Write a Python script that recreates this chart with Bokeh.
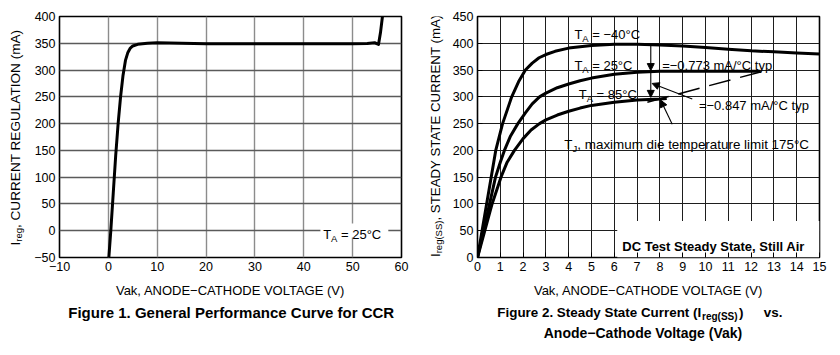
import math
from bokeh.plotting import figure
from bokeh.layouts import row, column
from bokeh.models import Label, Arrow, NormalHead, BoxAnnotation, Range1d, FixedTicker
from bokeh.embed import file_html
from bokeh.resources import INLINE

FONT = "Liberation Sans"

# ---------------- Figure 1 data ----------------
f1_v = [0.1, 0.5, 1.0, 1.5, 2.0, 2.5, 3.0, 3.5, 4.0, 4.5, 5.0, 6.0, 8.0, 10, 15, 20, 30, 40, 50, 53, 54.5, 55.3, 55.7, 56.1]
f1_i = [-50, 0, 70, 140, 200, 250, 290, 318, 333, 341, 345, 348, 350, 351, 350, 349, 349, 349, 349, 349.5, 351, 348, 370, 400]
f1_xticks = [-10, 0, 10, 20, 30, 40, 50, 60]
f1_yticks = [-50, 0, 50, 100, 150, 200, 250, 300, 350, 400]

# ---------------- Figure 2 data ----------------
f2_v_m40 = [0, 0.4, 0.6, 0.8, 1.1, 1.5, 1.8, 2.1, 2.4, 2.7, 3.0, 3.4, 4.0, 5.0, 6.0, 7.0, 8.0, 9.0, 10.0, 11.0, 12.0, 13.0, 14.0, 15.0]
f2_i_m40 = [0, 100, 150, 200, 250, 300, 328, 350, 363, 373, 379, 385, 391, 396, 398, 398, 397, 395, 392, 389, 386, 384, 382, 380]
f2_v_25 = [0, 0.53, 0.79, 1.0, 1.18, 1.45, 1.77, 2.1, 2.4, 2.72, 3.0, 3.5, 4.0, 4.5, 5.0, 6.0, 7.0, 8.0, 9.0, 10.0, 11.0, 12.0, 12.4]
f2_i_25 = [0, 100, 150, 178, 200, 227, 250, 270, 287, 300, 307, 317, 324, 330, 335, 342, 346, 348, 348, 348, 348, 348, 348]
f2_v_85 = [0, 0.64, 1.03, 1.3, 1.62, 2.0, 2.35, 2.72, 3.0, 3.5, 4.0, 4.5, 5.0, 6.0, 7.0, 8.0, 8.3]
f2_i_85 = [0, 100, 150, 178, 200, 222, 238, 250, 257, 266, 273, 279, 284, 290, 294, 296, 297]
f2_tj_v = [7.45, 12.63]          # die-temperature limit (dashed)
f2_tj_i = [290, 349]
f2_xticks = list(range(0, 16))
f2_yticks = list(range(0, 451, 50))

# annotation anchors (data units)
arrow_m40_25 = (7.6, 398, 7.6, 349)
arrow_25_85 = (7.6, 349, 7.6, 299)
ptr_0847 = (9.42, 296, 7.66, 325)
ptr_tj = (8.54, 249, 8.03, 294)


def lab(p, text, x, y, size=13, units="data", bold=False, align="left",
        baseline="alphabetic", angle=0, xo=0, yo=0):
    p.add_layout(Label(x=x, y=y, x_units=units, y_units=units, text=text,
                       text_font=FONT, text_font_size=f"{size}px",
                       text_font_style="bold" if bold else "normal",
                       text_align=align, text_baseline=baseline, angle=angle,
                       x_offset=xo, y_offset=yo, text_color="black"))


def blank(w, h):
    f = figure(width=w, height=h, x_range=Range1d(0, 1), y_range=Range1d(0, 1),
               output_backend="svg", toolbar_location=None,
               x_axis_location=None, y_axis_location=None, min_border=0)
    f.grid.visible = False
    f.outline_line_color = None
    f.background_fill_color = "white"
    f.border_fill_color = "white"
    return f


def style(p, xticks, yticks, xgrid_color, ygrid_color, gw, tick_in):
    p.xaxis.ticker = FixedTicker(ticks=xticks)
    p.yaxis.ticker = FixedTicker(ticks=yticks)
    for ax in (p.xaxis[0], p.yaxis[0]):
        ax.axis_line_color = None
        ax.major_tick_in = tick_in
        ax.major_tick_out = 0
        ax.major_tick_line_color = "black"
        ax.minor_tick_line_color = None
        ax.major_label_text_font = FONT
        ax.major_label_text_font_size = "12.5px"
        ax.major_label_text_color = "black"
        ax.axis_label_text_font = FONT
        ax.axis_label_text_font_size = "13px"
        ax.axis_label_text_font_style = "normal"
        ax.axis_label_text_color = "black"
    p.xaxis.major_label_standoff = 4
    p.yaxis.major_label_standoff = 4
    p.xaxis.axis_label = "Vak, ANODE\u2212CATHODE VOLTAGE (V)"
    p.xaxis.axis_label_standoff = 9
    p.xgrid.grid_line_color = xgrid_color
    p.ygrid.grid_line_color = ygrid_color
    p.xgrid.grid_line_width = gw
    p.ygrid.grid_line_width = gw
    p.outline_line_color = "black"
    p.outline_line_width = 1.6
    p.background_fill_color = "white"
    p.border_fill_color = "white"


# ================= Figure 1 =================
p1 = figure(width=392, height=302, x_range=Range1d(-10, 60), y_range=Range1d(-50, 400),
            output_backend="svg", toolbar_location=None,
            min_border_left=31, min_border_right=19, min_border_top=16, min_border_bottom=45)
style(p1, f1_xticks, f1_yticks, "#8c8c8c", "#5a5a5a", 1.4, 0)
p1.xaxis.major_label_overrides = {-10: "\u221210"}
p1.yaxis.major_label_overrides = {-50: "\u221250"}

p1.add_layout(BoxAnnotation(left=43.4, right=57.3, bottom=-12.6, top=13.5, fill_color="white",
                            fill_alpha=1, line_color=None, level="glyph"))
p1.line(f1_v, f1_i, line_color="black", line_width=3, line_join="round")

lab(p1, "T", 43.97, -7.5)
lab(p1, "A", 43.97, -7.5, size=9.5, xo=7.9, yo=-4)
lab(p1, "= 25\u00b0C", 43.97, -7.5, xo=17.8)

# y-axis title strip for figure 1 (frame aligned with p1's frame)
yt1 = blank(28, 302)
lab(yt1, "I", 15, 12, size=13.6, units="screen", angle=math.pi / 2, baseline="middle")
lab(yt1, "reg", 18, 15.8, size=9.5, units="screen", angle=math.pi / 2, baseline="middle")
lab(yt1, ", CURRENT REGULATION (mA)", 15, 29.5, size=13.6, units="screen", angle=math.pi / 2, baseline="middle")

# ================= Figure 2 =================
p2 = figure(width=392, height=302, x_range=Range1d(0, 15), y_range=Range1d(0, 450),
            output_backend="svg", toolbar_location=None,
            min_border_left=29, min_border_right=21, min_border_top=16, min_border_bottom=45)
style(p2, f2_xticks, f2_yticks, "#1e1e1e", "#1e1e1e", 1.0, 5)

p2.add_layout(BoxAnnotation(left=6.13, right=15, bottom=0, top=68, fill_color="white",
                            fill_alpha=1, line_color=None, level="glyph"))

for vv, ii in ((f2_v_m40, f2_i_m40), (f2_v_25, f2_i_25), (f2_v_85, f2_i_85)):
    p2.line(vv, ii, line_color="black", line_width=3, line_join="round")
p2.line(f2_tj_v, f2_tj_i, line_color="black", line_width=1.5, line_dash="22 10")

for (xs, ys, xe, ye) in (arrow_m40_25, arrow_25_85, ptr_0847, ptr_tj):
    p2.add_layout(Arrow(end=NormalHead(size=7, fill_color="black", line_color="black", line_width=1),
                        x_start=xs, y_start=ys, x_end=xe, y_end=ye,
                        line_color="black", line_width=1.1))

for (tx, ty, temp) in ((4.25, 416.3, "= \u221240\u00b0C"), (4.25, 358.4, "= 25\u00b0C"), (4.44, 304, "= 85\u00b0C")):
    lab(p2, "T", tx, ty)
    lab(p2, "A", tx, ty, size=9.5, xo=7.9, yo=-4)
    lab(p2, temp, tx, ty, xo=17.8)

lab(p2, "=\u22120.773 mA/\u00b0C typ", 8.1, 358)
lab(p2, "=\u22120.847 mA/\u00b0C typ", 9.71, 283.6)
lab(p2, "T", 3.81, 210.7, size=13.4)
lab(p2, "J", 3.81, 210.7, size=9.5, xo=8.2, yo=-4)
lab(p2, ", maximum die temperature limit 175\u00b0C", 3.81, 210.7, size=13.4, xo=13.0)
lab(p2, "DC Test Steady State, Still Air", 6.35, 20, bold=True)

# y-axis title strip for figure 2
yt2 = blank(28, 302)
lab(yt2, "I", 15, 0.5, size=13.3, units="screen", angle=math.pi / 2, baseline="middle")
lab(yt2, "reg(SS)", 18, 4.2, size=9.5, units="screen", angle=math.pi / 2, baseline="middle")
lab(yt2, ", STEADY STATE CURRENT (mA)", 15, 36.9, size=13.3, units="screen", angle=math.pi / 2, baseline="middle")

# ================= Captions =================
cap = blank(840, 53)
lab(cap, "Figure 1. General Performance Curve for CCR", 230.7, 43, size=15, units="screen",
    bold=True, align="center")
lab(cap, "Figure 2. Steady State Current (I", 700.7, 43, size=13.4, units="screen", bold=True, align="right")
lab(cap, "reg(SS)", 701.5, 43, size=10, units="screen", bold=True, yo=-4)
lab(cap, ")", 738.5, 43, size=13.4, units="screen", bold=True)
lab(cap, "vs.", 763.3, 43, size=13.4, units="screen", bold=True)
lab(cap, "Anode\u2212Cathode Voltage (Vak)", 642.5, 23, size=14, units="screen", bold=True, align="center")

layout = column(row(yt1, p1, yt2, p2), cap)
open("out.html", "w").write(file_html(layout, INLINE))
